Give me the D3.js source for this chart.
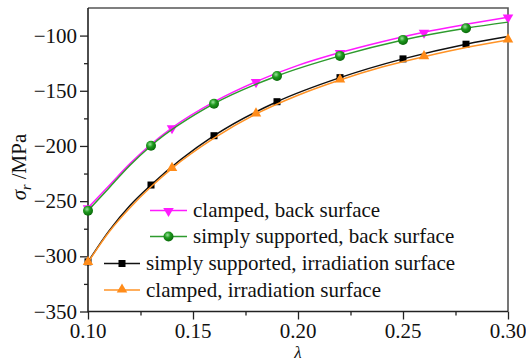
<!DOCTYPE html>
<html><head><meta charset="utf-8"><script src="https://cdn.jsdelivr.net/npm/d3@7"></script></head>
<body style="margin:0">
<svg id="chart" width="526" height="361" style="display:block"></svg>
<script>
// ---- data ----
const lambdaClampedBack = [0.10, 0.11, 0.12, 0.13, 0.14, 0.16, 0.18, 0.20, 0.22, 0.24, 0.26, 0.28, 0.30];
const clampedBack       = [-256, -236, -216, -198.5, -183.5, -160, -141.7, -127, -115.4, -105.5, -96.9, -89.8, -83.3];
const clampedBackMarks  = [0.10, 0.14, 0.18, 0.22, 0.26, 0.30];

const lambdaSimplyBack  = [0.10, 0.11, 0.12, 0.13, 0.16, 0.19, 0.22, 0.25, 0.28, 0.30];
const simplyBack        = [-258.7, -238, -217.5, -199.8, -161.7, -136.6, -118.4, -103.9, -93.3, -87.8];
const simplyBackMarks   = [0.10, 0.13, 0.16, 0.19, 0.22, 0.25, 0.28];

const lambdaSimplyIrr   = [0.10, 0.11, 0.12, 0.13, 0.16, 0.19, 0.22, 0.25, 0.28, 0.30];
const simplyIrr         = [-305, -277, -254, -235.4, -190.7, -159.9, -138.1, -121.1, -107.8, -100.9];
const simplyIrrMarks    = [0.10, 0.13, 0.16, 0.19, 0.22, 0.25, 0.28];

const lambdaClampedIrr  = [0.10, 0.11, 0.12, 0.13, 0.14, 0.16, 0.18, 0.20, 0.22, 0.24, 0.26, 0.28, 0.30];
const clampedIrr        = [-305.5, -278, -256, -237, -220.3, -193, -171, -154, -140.2, -128.5, -119.1, -110.8, -103.9];
const clampedIrrMarks   = [0.10, 0.14, 0.18, 0.22, 0.26, 0.30];

const seriesNames = [
  "clamped, back surface",
  "simply supported, back surface",
  "simply supported, irradiation surface",
  "clamped, irradiation surface"
];

const xTicks = [0.10, 0.15, 0.20, 0.25, 0.30];
const xMinorTicks = [0.125, 0.175, 0.225, 0.275];
const yTicks = [-350, -300, -250, -200, -150, -100];
const yMinorTicks = [-325, -275, -225, -175, -125];

// ---- layout ----
const SERIF = "'Liberation Serif'";
const svg = d3.select("#chart");
const L = 88, R = 508, T = 8, B = 311.5;
const x = d3.scaleLinear().domain([0.10, 0.30]).range([L, R]);
const y = d3.scaleLinear().domain([-350, -75]).range([B, T]);
const FS = 21;

const defs = svg.append("defs");
const grad = defs.append("radialGradient").attr("id", "ball")
  .attr("cx", "40%").attr("cy", "35%").attr("r", "65%");
grad.append("stop").attr("offset", "0%").attr("stop-color", "#9be39b");
grad.append("stop").attr("offset", "45%").attr("stop-color", "#1f9a1f");
grad.append("stop").attr("offset", "100%").attr("stop-color", "#0a6a0a");

const clip = defs.append("clipPath").attr("id", "plotclip");
clip.append("rect").attr("x", L - 6).attr("y", T - 8).attr("width", R - L + 12).attr("height", B - T + 14);

// ---- axes (ticks via d3 axes; labels as texts) ----
const xAxis = d3.axisBottom(x).tickValues(xTicks).tickFormat("").tickSize(8);
const xMinor = d3.axisBottom(x).tickValues(xMinorTicks).tickFormat("").tickSize(4);
const yAxis = d3.axisLeft(y).tickValues(yTicks).tickFormat("").tickSize(8);
const yMinor = d3.axisLeft(y).tickValues(yMinorTicks).tickFormat("").tickSize(4);

function styleAxis(g) {
  g.select(".domain").remove();
  g.selectAll("line").attr("stroke", "#222").attr("stroke-width", 1.3);
  g.selectAll("text").remove();
}
svg.append("g").attr("transform", `translate(0,${B})`).call(xAxis).call(styleAxis);
svg.append("g").attr("transform", `translate(0,${B})`).call(xMinor).call(styleAxis);
svg.append("g").attr("transform", `translate(${L},0)`).call(yAxis).call(styleAxis);
svg.append("g").attr("transform", `translate(${L},0)`).call(yMinor).call(styleAxis);

const fmtX = d3.format(".2f"), fmtY = d3.format("d");
xTicks.forEach(v => {
  svg.append("text").attr("x", x(v)).attr("y", 337.5).attr("text-anchor", "middle")
    .attr("font-size", FS).attr("fill", "#111").style("font-family", SERIF).text(fmtX(v));
});
yTicks.forEach(v => {
  svg.append("text").attr("x", L - 11).attr("y", y(v) + 7).attr("text-anchor", "end")
    .attr("font-size", FS).attr("fill", "#111").style("font-family", SERIF).text(fmtY(v));
});

// frame
svg.append("path")
  .attr("d", `M${L},${T}H${R}V${B}`)
  .attr("fill", "none").attr("stroke", "#555").attr("stroke-width", 1.6);
svg.append("path")
  .attr("d", `M${L},${T}V${B}H${R}`)
  .attr("fill", "none").attr("stroke", "#222").attr("stroke-width", 1.6);

// ---- series ----
const series = [
  { name: seriesNames[0], xs: lambdaClampedBack, ys: clampedBack, marks: clampedBackMarks, color: "#ff1aff", marker: "down", lx1: 150, lx2: 187, ly: 210.5 },
  { name: seriesNames[1], xs: lambdaSimplyBack, ys: simplyBack, marks: simplyBackMarks, color: "#2e9b2e", marker: "ball", lx1: 150, lx2: 187, ly: 236.5 },
  { name: seriesNames[2], xs: lambdaSimplyIrr, ys: simplyIrr, marks: simplyIrrMarks, color: "#111", marker: "square", lx1: 104, lx2: 140, ly: 263.5 },
  { name: seriesNames[3], xs: lambdaClampedIrr, ys: clampedIrr, marks: clampedIrrMarks, color: "#ff9326", marker: "up", lx1: 104, lx2: 140, ly: 290 }
];

const line = d3.line().x(d => x(d[0])).y(d => y(d[1])).curve(d3.curveMonotoneX);

function drawMarker(g, type, cx, cy) {
  if (type === "down") {
    g.append("path").attr("d", d3.symbol().type(d3.symbolTriangle).size(48)())
      .attr("transform", `translate(${cx},${cy + 0.5}) rotate(180)`).attr("fill", "#ff1aff");
  } else if (type === "up") {
    g.append("path").attr("d", d3.symbol().type(d3.symbolTriangle).size(48)())
      .attr("transform", `translate(${cx},${cy - 0.5})`).attr("fill", "#ff8c1a");
  } else if (type === "square") {
    g.append("rect").attr("x", cx - 3.5).attr("y", cy - 3.5).attr("width", 7).attr("height", 7).attr("fill", "#000");
  } else if (type === "ball") {
    g.append("circle").attr("cx", cx).attr("cy", cy).attr("r", 5).attr("fill", "url(#ball)");
  }
}

const plot = svg.append("g").attr("clip-path", "url(#plotclip)");
series.forEach(s => {
  const pts = s.xs.map((v, i) => [v, s.ys[i]]);
  plot.append("path").datum(pts).attr("d", line)
    .attr("fill", "none").attr("stroke", s.color).attr("stroke-width", 1.5);
  s.marks.forEach(m => {
    const i = s.xs.indexOf(m);
    drawMarker(plot, s.marker, x(s.xs[i]), y(s.ys[i]));
  });
});

// ---- legend ----
series.forEach(s => {
  svg.append("line").attr("x1", s.lx1).attr("x2", s.lx2).attr("y1", s.ly).attr("y2", s.ly)
    .attr("stroke", s.color).attr("stroke-width", 1.5);
  drawMarker(svg, s.marker, (s.lx1 + s.lx2) / 2, s.ly);
  svg.append("text").attr("x", s.lx2 + 6).attr("y", s.ly + 6.5)
    .attr("font-size", FS).attr("fill", "#111").style("font-family", SERIF).text(s.name);
});

// ---- axis titles ----
svg.append("text").attr("x", x(0.20)).attr("y", 357.5).attr("text-anchor", "middle")
  .attr("font-size", 17).attr("font-style", "italic").attr("fill", "#111").style("font-family", SERIF).text("λ");

svg.append("text").attr("transform", "translate(26,167) rotate(-90)")
  .attr("text-anchor", "middle").attr("font-size", FS).attr("fill", "#111").style("font-family", SERIF)
  .html('<tspan font-style="italic">σ</tspan><tspan font-style="italic" font-size="14" dy="5">r</tspan><tspan dy="-5"> /MPa</tspan>');
</script></body></html>
